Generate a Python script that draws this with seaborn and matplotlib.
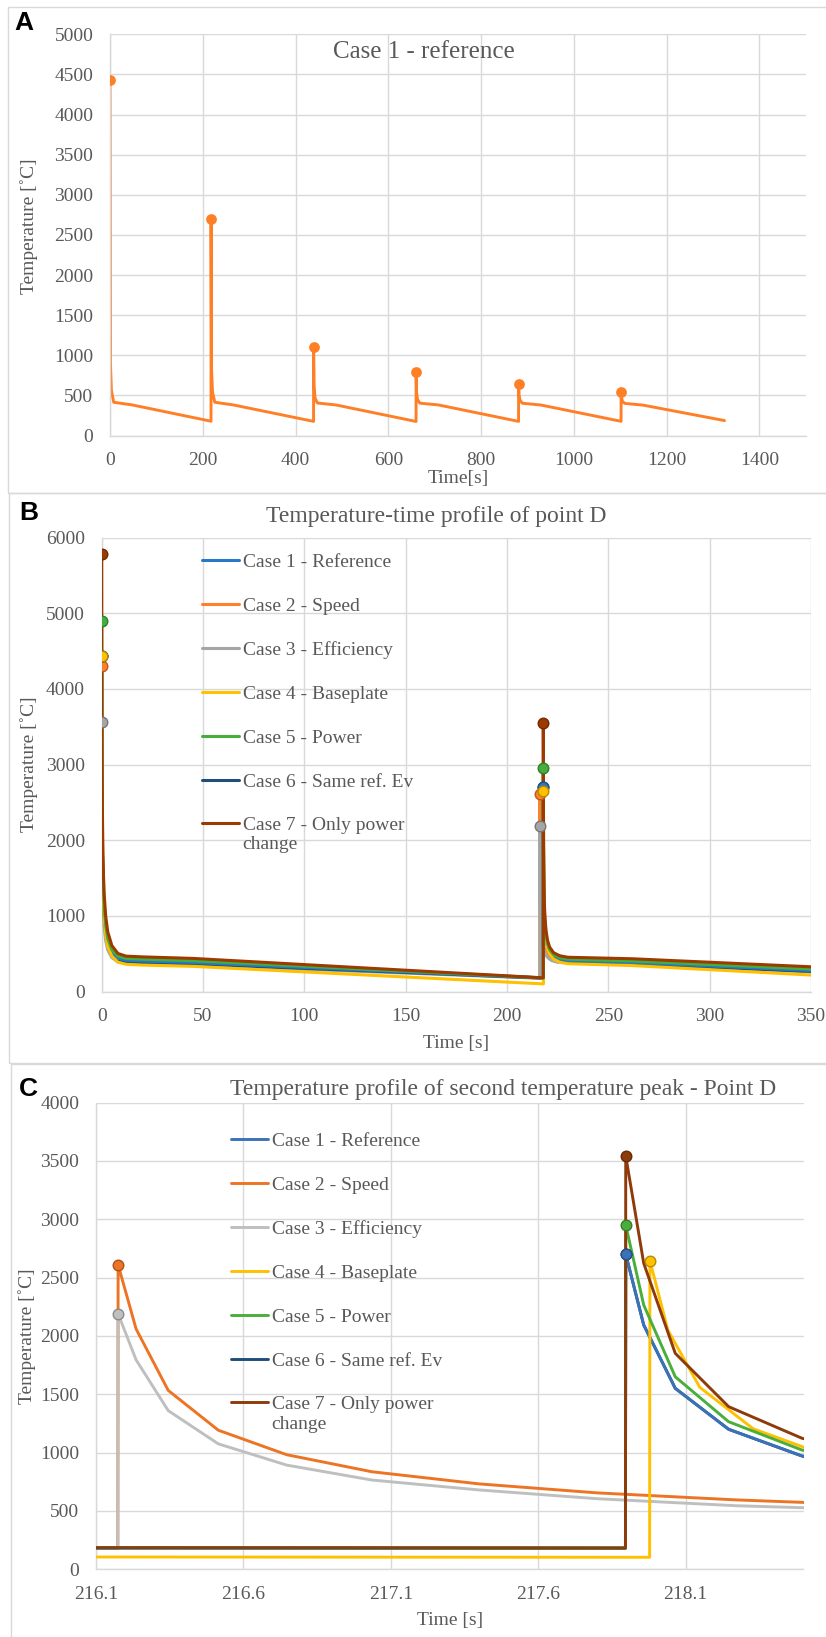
import matplotlib
matplotlib.use("Agg")
import matplotlib.pyplot as plt
from matplotlib.patches import Rectangle
from matplotlib.colors import to_rgb
import numpy as np
import seaborn as sns

# ---------------- data ----------------
# panel A: case 1 reference, six cycles
t_a = [0, 1, 3, 8, 48, 217.8,
       217.9, 219, 221, 226, 266, 438.9,
       439, 440, 442, 447, 487, 659.9,
       660, 661, 663, 668, 708, 880.9,
       881, 882, 884, 889, 929, 1101.9,
       1102, 1103, 1105, 1110, 1150, 1325]
T_a = [4430, 900, 560, 414, 381, 178,
       2700, 820, 540, 414, 381, 176,
       1100, 620, 470, 405, 381, 175,
       795, 540, 450, 403, 381, 176,
       642, 500, 440, 402, 380, 177,
       547, 470, 425, 400, 378, 186]

# panels B and C: point D, seven cases (C is a close-up of B)
t_ref = [0, 0.06, 0.17, 0.35, 0.6, 0.9, 1.3, 2, 3, 5, 8, 12, 20, 45, 217.896,
         217.897, 217.958, 218.065, 218.246, 218.495, 218.8, 219.3, 220, 221, 223, 226, 230, 262, 350]
t_fast = [0, 0.06, 0.17, 0.35, 0.6, 0.9, 1.3, 2, 3, 5, 8, 12, 20, 45, 216.174,
          216.175, 216.236, 216.345, 216.515, 216.747, 217.036, 217.40, 217.80, 218.27, 218.8,
          219.5, 220.5, 222, 225, 260, 350]
t_base = [0, 0.06, 0.17, 0.35, 0.6, 0.9, 1.3, 2, 3, 5, 8, 12, 20, 45, 217.978,
          217.979, 218.040, 218.148, 218.329, 218.578, 218.9, 219.4, 220.1, 221.1, 223, 226, 230, 262, 350]

T_case1 = [4430, 3300, 2450, 1850, 1450, 1200, 1000, 800, 650, 520, 440, 415, 405, 385, 182,
           2700, 2094, 1551, 1200, 971, 830, 700, 600, 530, 470, 430, 410, 385, 280]
T_case2 = [4300, 3200, 2380, 1800, 1410, 1170, 975, 780, 630, 505, 430, 405, 395, 375, 180,
           2610, 2060, 1533, 1192, 982, 836, 732, 655, 595, 545, 500, 462, 432, 405, 378, 272]
T_case3 = [3560, 2650, 1980, 1500, 1180, 985, 830, 670, 550, 450, 395, 378, 370, 352, 178,
           2190, 1795, 1360, 1075, 893, 765, 680, 605, 545, 505, 470, 440, 412, 388, 362, 262]
T_case4 = [4440, 3300, 2430, 1820, 1410, 1150, 950, 750, 600, 470, 390, 362, 352, 335, 103,
           2645, 2050, 1560, 1205, 975, 820, 680, 570, 495, 430, 390, 370, 345, 220]
T_case5 = [4900, 3650, 2700, 2050, 1600, 1320, 1100, 870, 700, 555, 470, 440, 430, 410, 182,
           2950, 2265, 1650, 1265, 1022, 870, 735, 630, 555, 490, 450, 430, 405, 300]
T_case6 = [4430, 3300, 2450, 1850, 1450, 1200, 1000, 790, 640, 505, 420, 395, 385, 368, 180,
           2700, 2094, 1551, 1200, 971, 825, 690, 590, 515, 455, 412, 392, 368, 268]
T_case7 = [5780, 4300, 3150, 2380, 1850, 1520, 1260, 990, 790, 610, 505, 470, 460, 440, 183,
           3543, 2623, 1851, 1394, 1123, 950, 800, 680, 590, 515, 475, 455, 435, 329]

case_labels = ["Case 1 - Reference", "Case 2 - Speed", "Case 3 - Efficiency",
               "Case 4 - Baseplate", "Case 5 - Power", "Case 6 - Same ref. Ev",
               "Case 7 - Only power\nchange"]
case_times = [t_ref, t_fast, t_fast, t_base, t_ref, t_ref, t_ref]
case_temps = [T_case1, T_case2, T_case3, T_case4, T_case5, T_case6, T_case7]

colors_b = ['#2878C8', '#FF7F2A', '#A5A5A5', '#FFC000', '#44AF3C', '#1F4E79', '#9C3A00']
colors_c = ['#3A72B8', '#EC7424', '#BFBFBF', '#FFC000', '#4AAE3A', '#1F4E79', '#8E3A0A']
order_z = [3.2, 3.0, 3.1, 3.3, 3.4, 3.15, 3.6]   # case 6 sits under case 1

# ---------------- figure ----------------
sns.set_theme(style="white")
plt.rcParams['font.family'] = ['Liberation Serif', 'DejaVu Serif']
TXT = '#595959'
GRID = '#D9D9D9'

W, H = 826, 1637
fig = plt.figure(figsize=(W / 100, H / 100), dpi=100)


def fx(x):
    return x / W


def fy(y):
    return 1 - y / H


def box(l, t, r, b):
    return [fx(l), fy(b), (r - l) / W, (b - t) / H]


def darker(c, f=0.72):
    return tuple(v * f for v in to_rgb(c))


def peaks(T):
    T = np.asarray(T)
    return [0] + [i for i in range(1, len(T) - 1) if T[i] > T[i - 1] and T[i] > T[i + 1]]


def style(ax, xlim, ylim, xticks, yticks, xlabels=None):
    ax.set_xlim(*xlim)
    ax.set_ylim(*ylim)
    ax.set_xticks(xticks)
    if xlabels is not None:
        ax.set_xticklabels(xlabels)
    ax.set_yticks(yticks)
    ax.grid(True, color=GRID, lw=1.0)
    ax.set_axisbelow(True)
    for s in ['top', 'right']:
        ax.spines[s].set_visible(False)
    for s in ['left', 'bottom']:
        ax.spines[s].set_color(GRID)
        ax.spines[s].set_linewidth(1.0)
    ax.tick_params(axis='both', length=0, labelsize=14, labelcolor=TXT)
    ax.tick_params(axis='x', pad=12)
    ax.tick_params(axis='y', pad=12)
    ax.set_xlabel('')
    ax.set_ylabel('')
    ax.set_facecolor('none')


def case_legend(ax, handles, left, top):
    leg = ax.legend(handles, case_labels, loc='upper left', bbox_to_anchor=(fx(left), fy(top)),
                    bbox_transform=fig.transFigure, frameon=False, fontsize=14, labelcolor=TXT,
                    handlelength=1.9, handletextpad=0.2, labelspacing=1.35, borderpad=0,
                    borderaxespad=0)
    # put the handle of the two-line entry level with its first line
    last = leg.legend_handles[-1]
    last.set_ydata(np.asarray(last.get_ydata()) + 8.3)
    return leg


# panel frames
for (l, t, r, b) in [(8.3, 6.7, 830, 492.7), (9.3, 492.7, 830, 1063), (11, 1063.5, 830, 1645)]:
    fig.add_artist(Rectangle((fx(l), fy(b)), (r - l) / W, (b - t) / H, transform=fig.transFigure,
                             fill=False, ec=GRID, lw=1.0))

# ---------------- panel A ----------------
axA = fig.add_axes(box(110, 34.3, 805.7, 435.5))
sns.lineplot(x=t_a, y=T_a, ax=axA, color='#FF7F27', linewidth=2.1, estimator=None, sort=False)
pk = peaks(T_a)
sns.scatterplot(x=[t_a[i] for i in pk], y=[T_a[i] for i in pk], ax=axA, color='#FF7F27',
                s=60, linewidth=0, zorder=4)
style(axA, (0, 1500), (0, 5000), range(0, 1401, 200), range(0, 5001, 500))
fig.text(fx(424), fy(52), "Case 1 - reference", ha='center', va='center', fontsize=18, color=TXT)
fig.text(fx(458), fy(479), "Time[s]", ha='center', va='center', fontsize=14, color=TXT)
fig.text(fx(29.5), fy(226), "Temperature [˚C]", ha='center', va='center', rotation=90,
         fontsize=14, color=TXT)


# ---------------- panels B and C ----------------
def draw_cases(ax, colors, lw, ms):
    handles = []
    for k in range(7):
        t, T, c = case_times[k], case_temps[k], colors[k]
        sns.lineplot(x=t, y=T, ax=ax, color=c, linewidth=lw, estimator=None, sort=False,
                     zorder=order_z[k])
        handles.append(ax.lines[-1])
        pk = peaks(T)
        sns.scatterplot(x=[t[i] for i in pk], y=[T[i] for i in pk], ax=ax, color=c, s=ms,
                        edgecolor=darker(c), linewidth=1.0, zorder=order_z[k] + 1)
    return handles


axB = fig.add_axes(box(101.7, 537.5, 811, 991.7))
hB = draw_cases(axB, colors_b, 2.2, 58)
style(axB, (0, 350), (0, 6000), range(0, 351, 50), range(0, 6001, 1000))
case_legend(axB, hB, 201.7, 553.4)
fig.text(fx(436), fy(516.6), "Temperature-time profile of point D", ha='center', va='center',
         fontsize=17, color=TXT)
fig.text(fx(456), fy(1043.5), "Time [s]", ha='center', va='center', fontsize=14, color=TXT)
fig.text(fx(29.5), fy(764.5), "Temperature [˚C]", ha='center', va='center', rotation=90,
         fontsize=14, color=TXT)

axC = fig.add_axes(box(96, 1102.6, 803.5, 1569.3))
hC = draw_cases(axC, colors_c, 2.1, 58)
c_ticks = [216.1, 216.6, 217.1, 217.6, 218.1]
style(axC, (216.1, 218.5), (0, 4000), c_ticks, range(0, 4001, 500),
      xlabels=[f"{v:.1f}" for v in c_ticks])
case_legend(axC, hC, 230.8, 1132.5)
fig.text(fx(503), fy(1089.4), "Temperature profile of second temperature peak - Point D",
         ha='center', va='center', fontsize=17, color=TXT)
fig.text(fx(450), fy(1621), "Time [s]", ha='center', va='center', fontsize=14, color=TXT)
fig.text(fx(27), fy(1336), "Temperature [˚C]", ha='center', va='center', rotation=90,
         fontsize=14, color=TXT)

# panel letters
for letter, x, y in [("A", 23.5, 22.8), ("B", 28.5, 513.3), ("C", 28, 1088.5)]:
    fig.text(fx(x), fy(y), letter, ha='center', va='center', fontsize=19, fontweight='bold',
             family=['Liberation Sans', 'DejaVu Sans'], color='black')

fig.savefig("out.png", dpi=100, facecolor='white')
